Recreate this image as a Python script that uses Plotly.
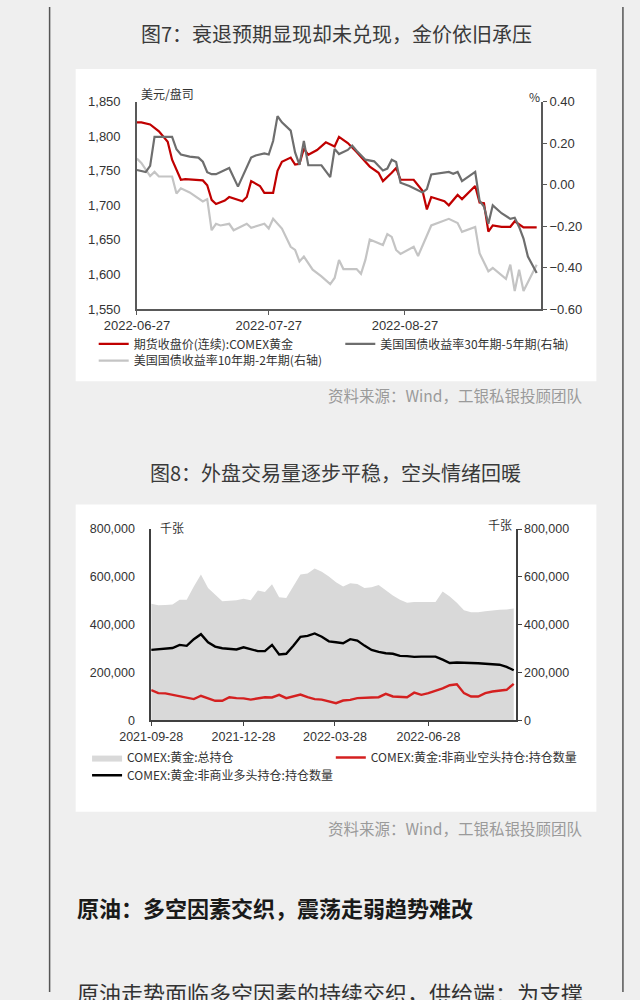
import plotly.graph_objects as go

# ---------------- Chart 1 data ----------------
gold_dates = ["2022-06-27","2022-06-28","2022-06-30","2022-07-02","2022-07-04","2022-07-05","2022-07-07","2022-07-08",
              "2022-07-12","2022-07-13","2022-07-14","2022-07-15","2022-07-17","2022-07-18","2022-07-21","2022-07-22",
              "2022-07-23","2022-07-24","2022-07-25","2022-07-26","2022-07-28","2022-07-29","2022-07-30","2022-08-01",
              "2022-08-02","2022-08-03","2022-08-04","2022-08-05","2022-08-07","2022-08-09","2022-08-11","2022-08-12",
              "2022-08-14","2022-08-16","2022-08-19","2022-08-21","2022-08-22","2022-08-24","2022-08-25","2022-08-26",
              "2022-08-29","2022-08-31","2022-09-01","2022-09-02","2022-09-05","2022-09-06","2022-09-08","2022-09-09",
              "2022-09-12","2022-09-13","2022-09-14","2022-09-15","2022-09-16","2022-09-18","2022-09-20","2022-09-21",
              "2022-09-23","2022-09-26"]
gold_close = [1820,1820,1817,1807,1792,1766,1737,1738,1736,1729,1708,1702,1707,1712,1706,1712,1735,1731,1728,1718,
              1718,1750,1763,1769,1759,1760,1782,1773,1780,1791,1785,1799,1790,1777,1756,1747,1735,1747,1754,1737,
              1737,1721,1694,1712,1706,1700,1715,1709,1728,1704,1703,1662,1671,1669,1669,1677,1668,1668]

spread30_5_dates = ["2022-06-27","2022-06-29","2022-06-30","2022-07-01","2022-07-05","2022-07-06","2022-07-07","2022-07-09",
                    "2022-07-11","2022-07-12","2022-07-13","2022-07-14","2022-07-15","2022-07-17","2022-07-18","2022-07-20",
                    "2022-07-22","2022-07-23","2022-07-24","2022-07-26","2022-07-27","2022-07-28","2022-07-29","2022-07-30",
                    "2022-08-01","2022-08-02","2022-08-03","2022-08-04","2022-08-05","2022-08-08","2022-08-10","2022-08-11",
                    "2022-08-12","2022-08-14","2022-08-15","2022-08-16","2022-08-18","2022-08-20","2022-08-22","2022-08-23",
                    "2022-08-24","2022-08-25","2022-08-26","2022-08-28","2022-08-31","2022-09-01","2022-09-02","2022-09-06",
                    "2022-09-07","2022-09-08","2022-09-09","2022-09-12","2022-09-13","2022-09-14","2022-09-15","2022-09-16",
                    "2022-09-18","2022-09-20","2022-09-21","2022-09-22","2022-09-23","2022-09-24","2022-09-25","2022-09-26"]
spread30_5 = [0.07,0.06,0.09,0.23,0.23,0.17,0.145,0.135,0.13,0.11,0.06,0.05,0.05,0.07,0.08,-0.01,0.08,0.13,0.14,0.15,
              0.145,0.21,0.33,0.30,0.26,0.155,0.095,0.21,0.093,0.093,0.036,0.172,0.147,0.167,0.188,0.163,0.12,0.112,0.068,0.077,
              0.12,0.109,0.009,-0.007,-0.038,-0.022,0.049,0.061,0.052,0.061,0.017,0.061,-0.078,-0.106,-0.189,-0.10,-0.138,-0.165,
              -0.16,-0.204,-0.26,-0.347,-0.386,-0.426]

spread10_2_dates = ["2022-06-27","2022-06-28","2022-06-30","2022-07-01","2022-07-02","2022-07-05","2022-07-06","2022-07-07",
                    "2022-07-09","2022-07-12","2022-07-13","2022-07-14","2022-07-15","2022-07-16","2022-07-18","2022-07-19",
                    "2022-07-22","2022-07-23","2022-07-26","2022-07-27","2022-07-28","2022-07-30","2022-08-01","2022-08-02",
                    "2022-08-03","2022-08-04","2022-08-06","2022-08-08","2022-08-10","2022-08-11","2022-08-12","2022-08-13",
                    "2022-08-16","2022-08-17","2022-08-18","2022-08-19","2022-08-22","2022-08-23","2022-08-24","2022-08-25",
                    "2022-08-26","2022-08-29","2022-08-30","2022-09-02","2022-09-06","2022-09-08","2022-09-09","2022-09-12",
                    "2022-09-13","2022-09-15","2022-09-16","2022-09-19","2022-09-20","2022-09-21","2022-09-22","2022-09-23",
                    "2022-09-26"]
spread10_2 = [0.125,0.104,0.041,0.061,0.039,0.039,-0.043,-0.018,-0.038,-0.081,-0.07,-0.22,-0.189,-0.197,-0.189,-0.22,
              -0.189,-0.208,-0.189,-0.212,-0.165,-0.212,-0.30,-0.315,-0.37,-0.347,-0.41,-0.442,-0.48,-0.45,-0.363,-0.407,
              -0.407,-0.43,-0.363,-0.265,-0.291,-0.239,-0.252,-0.315,-0.334,-0.30,-0.344,-0.197,-0.165,-0.185,-0.228,-0.204,
              -0.331,-0.418,-0.402,-0.454,-0.386,-0.513,-0.41,-0.513,-0.386]

c1_xticks = ["2022-06-27", "2022-07-27", "2022-08-27"]
c1_left_ticks = [1550, 1600, 1650, 1700, 1750, 1800, 1850]
c1_right_ticks = [-0.6, -0.4, -0.2, 0.0, 0.2, 0.4]

# ---------------- Chart 2 data (weekly) ----------------
week_dates = ["2021-09-28","2021-10-05","2021-10-12","2021-10-19","2021-10-26","2021-11-02","2021-11-09","2021-11-16",
              "2021-11-23","2021-11-30","2021-12-07","2021-12-14","2021-12-21","2021-12-28","2022-01-04","2022-01-11",
              "2022-01-18","2022-01-25","2022-02-01","2022-02-08","2022-02-15","2022-02-22","2022-03-01","2022-03-08",
              "2022-03-15","2022-03-22","2022-03-29","2022-04-05","2022-04-12","2022-04-19","2022-04-26","2022-05-03",
              "2022-05-10","2022-05-17","2022-05-24","2022-05-31","2022-06-07","2022-06-14","2022-06-21","2022-06-28",
              "2022-07-05","2022-07-12","2022-07-19","2022-07-26","2022-08-02","2022-08-09","2022-08-16","2022-08-23",
              "2022-08-30","2022-09-06","2022-09-13","2022-09-20"]
total_oi = [487000,481000,482000,484000,504000,504000,560000,610000,553000,525000,
            498000,500000,502000,508000,502000,543000,536000,569000,514000,511000,
            560000,610000,614000,635000,621000,601000,577000,560000,573000,570000,
            553000,556000,566000,543000,522000,504000,491000,495000,495000,495000,
            495000,539000,518000,491000,460000,452000,452000,456000,460000,462000,
            463000,467000]
noncomm_long = [294000,296000,298000,302000,315000,311000,339000,360000,326000,308000,
                301000,298000,296000,305000,296000,289000,289000,315000,275000,278000,
                311000,349000,353000,363000,349000,330000,326000,322000,339000,333000,
                312000,294000,286000,280000,278000,269000,268000,265000,266000,266000,
                266000,253000,239000,241000,241000,241000,238000,236000,235000,232000,
                223000,209000]
noncomm_short = [126000,113000,112000,106000,99000,95000,88000,102000,90000,81000,
                 81000,96000,92000,91000,86000,91000,96000,95000,106000,92000,
                 99000,107000,96000,88000,86000,78000,71000,82000,85000,92000,
                 92000,95000,96000,110000,99000,96000,96000,115000,106000,113000,
                 122000,133000,146000,150000,113000,99000,99000,113000,120000,124000,
                 127000,152000]

c2_xticks = ["2021-09-28", "2021-12-28", "2022-03-28", "2022-06-28"]
c2_yticks = [0, 200000, 400000, 600000, 800000]

# ---------------- helpers ----------------
W, H = 640, 1000
def px(x):
    return x / W
def py(y):
    return 1 - y / H

CJK = "Noto Sans CJK SC"
NUM = "Liberation Sans, Noto Sans CJK SC"
AX = "#595959"

fig = go.Figure()

# chart 1 traces
fig.add_trace(go.Scatter(x=spread10_2_dates, y=spread10_2, mode="lines",
                         line=dict(color="#c4c4c4", width=2.2),
                         name="美国国债收益率10年期-2年期(右轴)", xaxis="x", yaxis="y2", legend="legend3"))
fig.add_trace(go.Scatter(x=spread30_5_dates, y=spread30_5, mode="lines",
                         line=dict(color="#6e6e6e", width=2.2),
                         name="美国国债收益率30年期-5年期(右轴)", xaxis="x", yaxis="y2", legend="legend2"))
fig.add_trace(go.Scatter(x=gold_dates, y=gold_close, mode="lines",
                         line=dict(color="#c00000", width=2.2),
                         name="期货收盘价(连续):COMEX黄金", xaxis="x", yaxis="y", legend="legend"))

# chart 2 traces
fig.add_trace(go.Scatter(x=week_dates, y=total_oi, mode="lines", fill="tozeroy",
                         fillcolor="#d9d9d9", line=dict(color="#d9d9d9", width=0),
                         name="COMEX:黄金:总持仓", xaxis="x2", yaxis="y3", legend="legend4"))
fig.add_trace(go.Scatter(x=week_dates, y=noncomm_long, mode="lines",
                         line=dict(color="#000000", width=2.4),
                         name="COMEX:黄金:非商业多头持仓:持仓数量", xaxis="x2", yaxis="y3", legend="legend6"))
fig.add_trace(go.Scatter(x=week_dates, y=noncomm_short, mode="lines",
                         line=dict(color="#d42020", width=2.4),
                         name="COMEX:黄金:非商业空头持仓:持仓数量", xaxis="x2", yaxis="y4", legend="legend5"))

def leg(x, y):
    return dict(x=x, y=y, xanchor="left", yanchor="middle", orientation="h",
                bgcolor="rgba(0,0,0,0)", borderwidth=0, itemwidth=30,
                font=dict(family=CJK, size=12, color="#333333"))

axis_common = dict(showline=True, linecolor=AX, linewidth=1.5, showgrid=False, zeroline=False,
                   tickcolor=AX, tickfont=dict(family=NUM, size=13, color="#333333"))
axis_c2 = {**axis_common, "tickfont": dict(family=NUM, size=12.5, color="#333333"),
           "linecolor": "#404040", "tickcolor": "#404040"}

fig.update_layout(
    width=W, height=H,
    margin=dict(l=0, r=0, t=0, b=0),
    paper_bgcolor="#efefef",
    plot_bgcolor="#ffffff",
    showlegend=True,
    xaxis=dict(domain=[px(109.6), px(535.7)], anchor="y", type="date",
               range=["2022-06-27", "2022-09-27"], tickmode="array",
               tickvals=c1_xticks, ticktext=c1_xticks, ticks="outside", ticklen=4, **axis_common),
    yaxis=dict(domain=[py(306.7), py(96)], anchor="x", range=[1550, 1850], tickmode="array",
               tickvals=c1_left_ticks, tickformat=",", ticks="", ticklabelstandoff=12, **axis_common),
    yaxis2=dict(overlaying="y", side="right", anchor="x", range=[-0.6, 0.4], tickmode="array",
                tickvals=c1_right_ticks, tickformat=".2f", ticks="outside", ticklen=4, **axis_common),
    xaxis2=dict(domain=[px(124.6), px(509)], anchor="y3", type="date",
                range=["2021-09-28", "2022-09-22"], tickmode="array",
                tickvals=c2_xticks, ticktext=c2_xticks, ticks="outside", ticklen=4, **axis_c2),
    yaxis3=dict(domain=[py(724), py(530)], anchor="x2", range=[0, 800000], tickmode="array",
                tickvals=c2_yticks, tickformat=",", ticks="", ticklabelstandoff=12, **axis_c2),
    yaxis4=dict(overlaying="y3", side="right", anchor="x2", range=[0, 800000], tickmode="array",
                tickvals=c2_yticks, tickformat=",", ticks="outside", ticklen=4, **axis_c2),
    legend=leg(px(64), py(342)),
    legend2=leg(px(324), py(342)),
    legend3=leg(px(64), py(359)),
    legend4=leg(px(57), py(762)),
    legend5=leg(px(314), py(762)),
    legend6=leg(px(57), py(780)),
)

shapes = [
    dict(type="rect", xref="paper", yref="paper", x0=px(45), x1=px(594), y0=py(380), y1=py(63),
         fillcolor="#ffffff", line=dict(width=0), layer="below"),
    dict(type="rect", xref="paper", yref="paper", x0=px(45), x1=px(594), y0=py(817), y1=py(505),
         fillcolor="#ffffff", line=dict(width=0), layer="below"),
    dict(type="line", xref="paper", yref="paper", x0=px(17.5), x1=px(17.5), y0=0, y1=1,
         line=dict(color="#555555", width=1.5)),
    dict(type="line", xref="paper", yref="paper", x0=px(622), x1=px(622), y0=0, y1=1,
         line=dict(color="#555555", width=1.5)),
]
fig.update_layout(shapes=shapes)

def ann(text, x, y, size, color="#333333", xanchor="left", yanchor="middle", family=CJK):
    return dict(text=text, x=x, y=y, xref="paper", yref="paper", xanchor=xanchor, yanchor=yanchor,
                showarrow=False, font=dict(family=family, size=size, color=color))

annotations = [
    ann("图7：衰退预期显现却未兑现，金价依旧承压", px(320), py(27), 20, "#3a3a3a", "center"),
    ann("美元/盘司", px(112), py(88), 12),
    ann("%", px(521), py(91), 12),
    ann("资料来源：Wind，工银私银投顾团队", px(581), py(394), 15.5, "#9a9a9a", "right"),
    ann("图8：外盘交易量逐步平稳，空头情绪回暖", px(319), py(473), 20, "#3a3a3a", "center"),
    ann("千张", px(132), py(528), 12),
    ann("千张", px(507), py(525), 12, xanchor="right"),
    ann("资料来源：Wind，工银私银投顾团队", px(581), py(834), 15.5, "#9a9a9a", "right"),
    ann("<b>原油：多空因素交织，震荡走弱趋势难改</b>", px(44), py(914), 22, "#1a1a1a"),
    ann("原油走势面临多空因素的持续交织，供给端：为支撑", px(44), py(982), 22, "#333333", yanchor="top"),
]
fig.update_layout(annotations=annotations)

fig.write_html("out.html")
